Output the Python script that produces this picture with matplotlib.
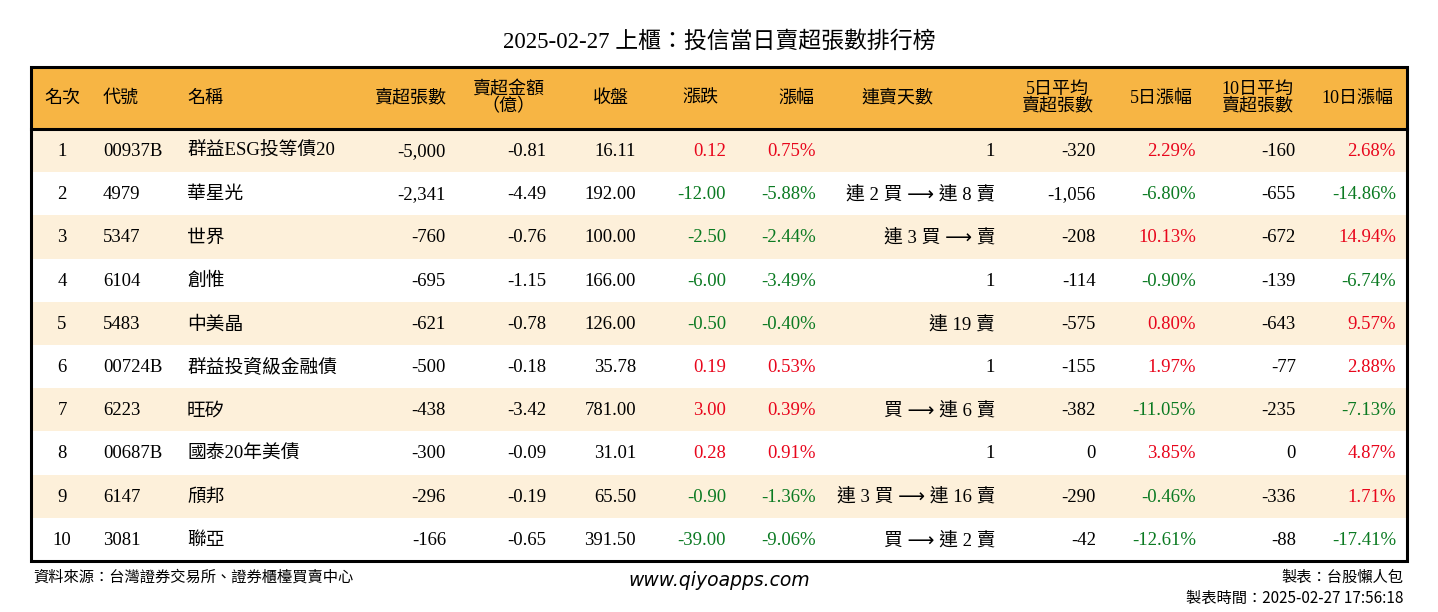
import matplotlib
matplotlib.use("Agg")
import matplotlib.pyplot as plt
from matplotlib.patches import Rectangle

plt.rcParams['font.family'] = ['Liberation Serif', 'Noto Sans CJK TC', 'DejaVu Sans']

title = "2025-02-27 上櫃：投信當日賣超張數排行榜"
headers = ["名次", "代號", "名稱", "賣超張數", "賣超金額\n（億）", "收盤", "漲跌", "漲幅",
           "連賣天數", "5日平均\n賣超張數", "5日漲幅", "10日平均\n賣超張數", "10日漲幅"]

rank = ["1", "2", "3", "4", "5", "6", "7", "8", "9", "10"]
code = ["00937B", "4979", "5347", "6104", "5483", "00724B", "6223", "00687B", "6147", "3081"]
name = ["群益ESG投等債20", "華星光", "世界", "創惟", "中美晶", "群益投資級金融債", "旺矽",
        "國泰20年美債", "頎邦", "聯亞"]
sell_vol = [-5000, -2341, -760, -695, -621, -500, -438, -300, -296, -166]
sell_amt = [-0.81, -4.49, -0.76, -1.15, -0.78, -0.18, -3.42, -0.09, -0.19, -0.65]
close = [16.11, 192.00, 100.00, 166.00, 126.00, 35.78, 781.00, 31.01, 65.50, 391.50]
change = [0.12, -12.00, -2.50, -6.00, -0.50, 0.19, 3.00, 0.28, -0.90, -39.00]
pct = [0.75, -5.88, -2.44, -3.49, -0.40, 0.53, 0.39, 0.91, -1.36, -9.06]
streak = ["1", "連 2 買 ⟶ 連 8 賣", "連 3 買 ⟶ 賣", "1", "連 19 賣", "1", "買 ⟶ 連 6 賣",
          "1", "連 3 買 ⟶ 連 16 賣", "買 ⟶ 連 2 賣"]
avg5 = [-320, -1056, -208, -114, -575, -155, -382, 0, -290, -42]
pct5 = [2.29, -6.80, 10.13, -0.90, 0.80, 1.97, -11.05, 3.85, -0.46, -12.61]
avg10 = [-160, -655, -672, -139, -643, -77, -235, 0, -336, -88]
pct10 = [2.68, -14.86, 14.94, -6.74, 9.57, 2.88, -7.13, 4.87, 1.71, -17.41]

W, H = 1438, 612
fig = plt.figure(figsize=(W / 100, H / 100), dpi=100)
ax = fig.add_axes([0, 0, 1, 1])
ax.set_xlim(0, W)
ax.set_ylim(H, 0)
ax.axis('off')

RED = "#E8061C"
GREEN = "#0B7A22"
HEAD = "#F7B544"
CREAM = "#FDF0DA"

x0, x1 = 31, 1407
y_top, y_head, y_bot = 67, 129, 561
n = len(rank)
rh = (y_bot - y_head) / n

ax.add_patch(Rectangle((x0, y_top), x1 - x0, y_head - y_top, facecolor=HEAD, edgecolor='none'))
for i in range(n):
    if i % 2 == 0:
        ax.add_patch(Rectangle((x0, y_head + i * rh), x1 - x0, rh, facecolor=CREAM, edgecolor='none'))
ax.add_patch(Rectangle((x0, y_top), x1 - x0, y_bot - y_top, facecolor='none', edgecolor='black', linewidth=2.2))
ax.plot([x0, x1], [y_head, y_head], color='black', linewidth=2.2)

ax.text(W / 2, 42, title, ha='center', va='center', fontsize=16.5)

hpos = [(62, 'center'), (103, 'left'), (187, 'left'), (446, 'right'), (508, 'center'),
        (611, 'center'), (700, 'center'), (796, 'center'), (897, 'center'), (1057, 'center'),
        (1161, 'center'), (1257, 'center'), (1357, 'center')]
hy = (y_top + y_head) / 2
for (hx, ha), h in zip(hpos, headers):
    ax.text(hx, hy, h, ha=ha, va='center', fontsize=13, linespacing=0.95)

def col(v):
    if v > 0:
        return RED
    if v < 0:
        return GREEN
    return 'black'

fs = 13.5
cjk_first = ['Liberation Serif', 'DejaVu Sans', 'Noto Sans CJK TC']
for i in range(n):
    y = y_head + (i + 0.5) * rh + 1
    ax.text(62, y, rank[i], ha='center', va='center', fontsize=fs)
    ax.text(103, y, code[i], ha='left', va='center', fontsize=fs)
    ax.text(187, y, name[i], ha='left', va='center', fontsize=fs)
    ax.text(446, y, f"{sell_vol[i]:,}", ha='right', va='center', fontsize=fs)
    ax.text(546, y, f"{sell_amt[i]:.2f}", ha='right', va='center', fontsize=fs)
    ax.text(636, y, f"{close[i]:.2f}", ha='right', va='center', fontsize=fs)
    ax.text(726, y, f"{change[i]:.2f}", ha='right', va='center', fontsize=fs, color=col(change[i]))
    ax.text(816, y, f"{pct[i]:.2f}%", ha='right', va='center', fontsize=fs, color=col(pct[i]))
    ax.text(995, y, streak[i], ha='right', va='center', fontsize=fs, family=cjk_first)
    ax.text(1096, y, f"{avg5[i]:,}", ha='right', va='center', fontsize=fs)
    ax.text(1196, y, f"{pct5[i]:.2f}%", ha='right', va='center', fontsize=fs, color=col(pct5[i]))
    ax.text(1296, y, f"{avg10[i]:,}", ha='right', va='center', fontsize=fs)
    ax.text(1396, y, f"{pct10[i]:.2f}%", ha='right', va='center', fontsize=fs, color=col(pct10[i]))

ax.text(33, 577, "資料來源：台灣證券交易所、證券櫃檯買賣中心", ha='left', va='center',
        fontsize=11, family=['Noto Sans CJK TC', 'DejaVu Sans'])
ax.text(719, 580, "www.qiyoapps.com", ha='center', va='center', fontsize=13.5,
        style='italic', family=['DejaVu Sans'])
ax.text(1403, 577, "製表：台股懶人包", ha='right', va='center',
        fontsize=11, family=['Noto Sans CJK TC', 'DejaVu Sans'])
ax.text(1403, 598, "製表時間：2025-02-27 17:56:18", ha='right', va='center',
        fontsize=11, family=['Noto Sans CJK TC', 'DejaVu Sans'])

fig.savefig("out.png", dpi=100, facecolor='white')
